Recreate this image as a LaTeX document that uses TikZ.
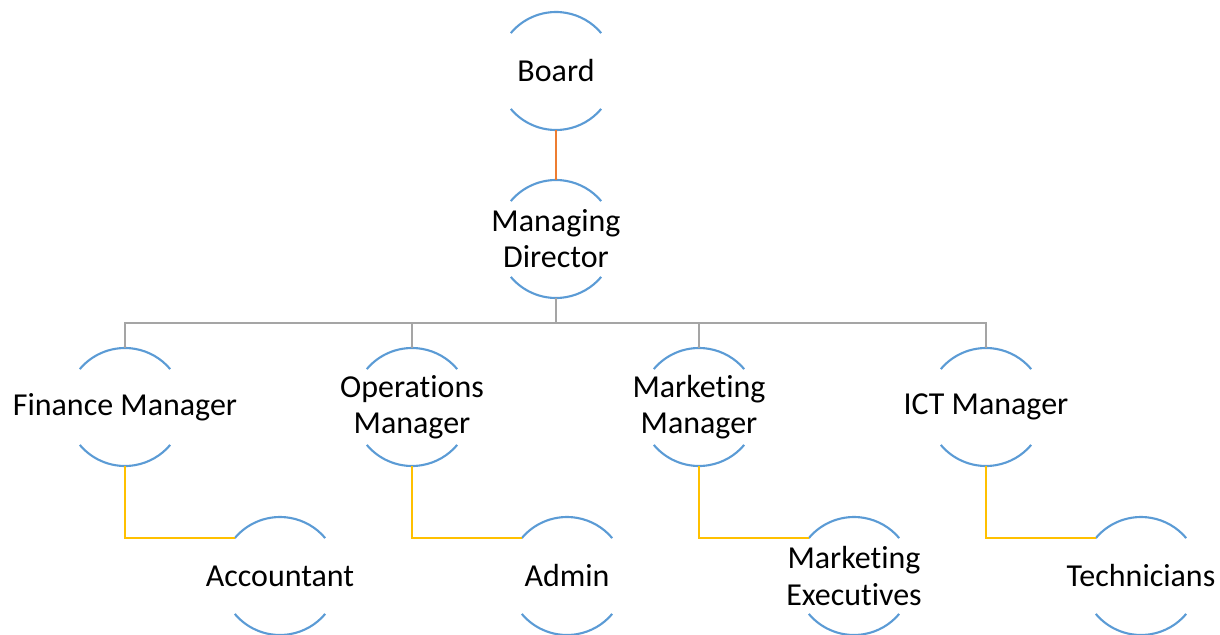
\documentclass[tikz,border=0pt]{standalone}
\usepackage{fontspec}
\setmainfont{Carlito}[Ligatures={NoCommon}]
\usepackage{tikz}
\usetikzlibrary{positioning,calc}
\definecolor{arcblue}{HTML}{5B9BD5}
\definecolor{lineorange}{HTML}{ED7D31}
\definecolor{linegray}{HTML}{A5A5A5}
\definecolor{lineyellow}{HTML}{FFC000}
\tikzstyle{post}=[align=center,inner sep=0mm,font=\fontsize{18.2}{20.5}\selectfont]
\tikzstyle{arcline}=[draw=arcblue,line width=1.2pt]
\tikzstyle{link}=[line width=1.15pt]

\begin{document}
\begin{tikzpicture}[x=0.02cm,y=0.02cm]
  \useasboundingbox (0,0) rectangle (1220,-635);
  \node [post] at (556, -71) (board) {Board};
  \node [post] at (556, -239) (md) {Managing\\Director};

  \node [post] at (125, -407) (fin) {Finance Manager};
  \node [post] at (412, -407) (ops) {Operations\\Manager};
  \node [post] at (699, -407) (mkt) {Marketing\\Manager};
  \node [post] at (986, -407) (ict) {ICT Manager};

  \node [post] at (280, -576) (acc) {Accountant};
  \node [post] at (567, -576) (adm) {Admin};
  \node [post] at (854, -576) (exe) {Marketing\\Executives};
  \node [post] at (1141, -576) (tec) {Technicians};

  % open circles round every post
  \foreach \n in {board,md,fin,ops,mkt,ict,acc,adm,exe,tec} {
    \draw [arcline] (\n.center) ++(140:59) arc[start angle=140, end angle=40, radius=1.18cm];
    \draw [arcline] (\n.center) ++(220:59) arc[start angle=220, end angle=320, radius=1.18cm];
    \coordinate (\n-top) at ($(\n.center)+(0,59)$);
    \coordinate (\n-bot) at ($(\n.center)+(0,-59)$);
    \coordinate (\n-left) at ($(\n.center)+(140:59)$);
  }

  \draw [link, lineorange] (board-bot) -- (md-top);
  \coordinate (bus) at ($(md-bot)+(0,-25)$);
  \draw [link, linegray] (md-bot) -- (bus);
  \foreach \n in {fin,ops,mkt,ict}
    \draw [link, linegray] (bus) -| (\n-top);

  \draw [link, lineyellow] (fin-bot) |- (acc-left);
  \draw [link, lineyellow] (ops-bot) |- (adm-left);
  \draw [link, lineyellow] (mkt-bot) |- (exe-left);
  \draw [link, lineyellow] (ict-bot) |- (tec-left);
\end{tikzpicture}
\end{document}
